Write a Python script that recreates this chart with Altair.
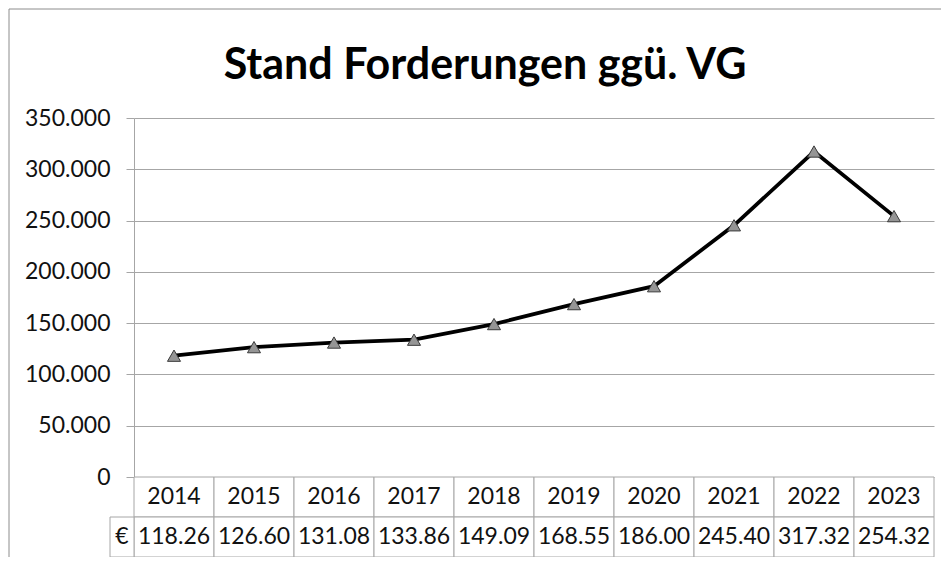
import altair as alt
import pandas as pd

years = ["2014", "2015", "2016", "2017", "2018", "2019", "2020", "2021", "2022", "2023"]
values = [118260, 126600, 131080, 133860, 149090, 168550, 186000, 245400, 317320, 254320]
table_labels = ["118.26", "126.60", "131.08", "133.86", "149.09", "168.55", "186.00", "245.40", "317.32", "254.32"]
y_ticks = [0, 50000, 100000, 150000, 200000, 250000, 300000, 350000]
title_text = "Stand Forderungen ggü. VG"
currency = "€"

FONT = "Lato"
GRID = "#a6a6a6"
TXT = "#111111"

df = pd.DataFrame({"year": years, "value": values})
rows = ["h", "v"]
tbl = pd.DataFrame(
    {"year": years + years, "row": ["h"] * len(years) + ["v"] * len(years), "label": years + table_labels}
)
euro = pd.DataFrame({"row": ["v"], "label": [currency]})
one = pd.DataFrame({"d": [0]})

xenc = alt.X("year:N", sort=years, scale=alt.Scale(type="band", paddingInner=0, paddingOuter=0), axis=None)
yrow = alt.Y("row:N", sort=rows, scale=alt.Scale(type="band", domain=rows, range=[359, 439], paddingInner=0, paddingOuter=0), axis=None)
yscale = alt.Scale(domain=[0, 350000], range=[359, 0], nice=False, zero=True)

line = alt.Chart(df).mark_line(color="black", strokeWidth=3.8).encode(
    x=xenc,
    y=alt.Y("value:Q", scale=yscale, axis=alt.Axis(
        orient="left",
        values=y_ticks,
        labelExpr="replace(format(datum.value, ',.0f'), ',', '.')",
        grid=True, gridColor=GRID, gridWidth=1,
        tickColor=GRID, tickSize=8, domainColor=GRID,
        labelFont=FONT, labelFontSize=23, labelColor=TXT, labelPadding=16,
        title=None,
    )),
)
points = alt.Chart(df).mark_point(shape="triangle-up", filled=True, fill="#959595", stroke="#3a3a3a",
                                  strokeWidth=1, size=170, opacity=1).encode(
    x=xenc, y=alt.Y("value:Q", scale=yscale)
)
series = alt.layer(line, points)

cells = alt.Chart(tbl).mark_rect(fill="white", stroke=GRID, strokeWidth=1).encode(x=xenc, y=yrow)
cell_text = alt.Chart(tbl).mark_text(font=FONT, fontSize=23, color=TXT).encode(x=xenc, y=yrow, text="label:N")
euro_cell = alt.Chart(euro).mark_rect(fill="white", stroke=GRID, strokeWidth=1).encode(
    x=alt.value(-24), x2=alt.value(0), y=yrow
)
euro_text = alt.Chart(euro).mark_text(font=FONT, fontSize=23, color=TXT).encode(
    x=alt.value(-12), y=yrow, text="label:N"
)
table = alt.layer(cells, cell_text, euro_cell, euro_text)

border_left = alt.Chart(one).mark_rule(color="#8c8c8c", strokeWidth=1).encode(
    x=alt.value(-125), y=alt.value(-109), y2=alt.value(460)
)
border_top = alt.Chart(one).mark_rule(color="#8c8c8c", strokeWidth=1).encode(
    x=alt.value(-125), x2=alt.value(830), y=alt.value(-109)
)

chart = alt.layer(
    series, table, border_left, border_top
).resolve_scale(y="independent").properties(
    width=800, height=439,
    padding={"left": 126, "top": 110, "right": 7, "bottom": 0},
    autosize=alt.AutoSizeParams(type="none"),
    title=alt.Title(title_text, font=FONT, fontSize=43, fontWeight="bold", color="black",
                    anchor="middle", frame="group", dx=-49, dy=83),
).configure_view(stroke=None)

chart.save("out.html", embed_options={"renderer": "svg", "actions": False})
